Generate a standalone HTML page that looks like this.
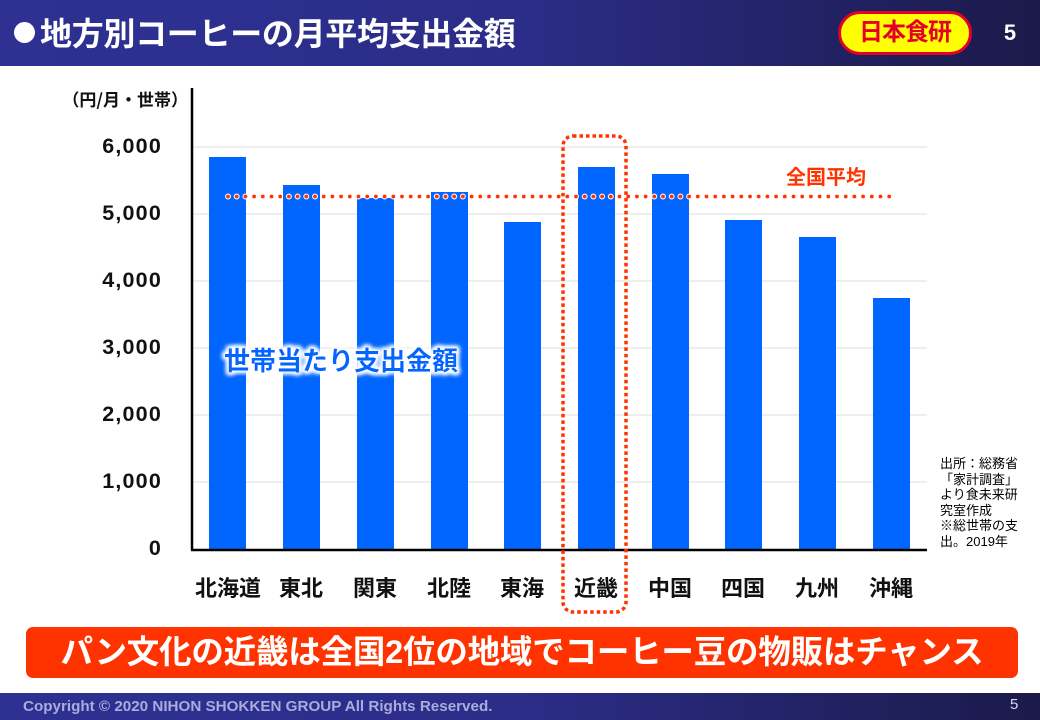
<!DOCTYPE html>
<html><head><meta charset="utf-8">
<style>
*{margin:0;padding:0;box-sizing:border-box}
body{width:1040px;height:720px;background:#fff;position:relative;overflow:hidden;font-family:"Liberation Sans","Noto Sans CJK JP",sans-serif}
.hdr{position:absolute;left:0;top:0;width:1040px;height:66px;background:linear-gradient(90deg,#2e3192 0%,#2b2d88 50%,#1b1a4a 100%)}
.dot{position:absolute;left:14px;top:22px;width:21px;height:21px;border-radius:50%;background:#fff}
.title{position:absolute;left:40px;top:12px;color:#fff;font-weight:bold;font-size:32px;line-height:40px;white-space:nowrap;letter-spacing:-0.3px;font-family:"Noto Sans CJK JP",sans-serif}
.logo{position:absolute;left:838px;top:11px;width:134px;height:44px;border:3px solid #e5002b;border-radius:22px;background:#ffff00;color:#e5002b;font-weight:bold;font-size:24px;line-height:38px;text-align:center;letter-spacing:-1px}
.pg{position:absolute;left:1000px;top:16px;color:#fff;font-weight:bold;font-size:22px;line-height:34px;width:20px;text-align:center}
.banner{position:absolute;left:26px;top:627px;width:992px;height:51px;background:#ff3300;border-radius:7px;color:#fff;font-weight:bold;font-size:32.5px;line-height:51px;text-align:center;white-space:nowrap;letter-spacing:-0.2px}
.ftr{position:absolute;left:0;top:693px;width:1040px;height:27px;background:linear-gradient(90deg,#2e3192 0%,#2b2d88 50%,#1b1a4a 100%)}
.copy{position:absolute;left:23px;top:5px;color:#a9acdc;font-weight:bold;font-size:15.2px;line-height:18px;white-space:nowrap}
.fpg{position:absolute;left:1010px;top:3px;color:#d8d8f0;font-size:15px;line-height:18px}
.note{position:absolute;left:940px;top:456px;font-size:13px;line-height:15.6px;color:#000;font-family:"Liberation Sans","Noto Sans CJK JP",sans-serif}
</style></head><body>
<div class="hdr">
  <div class="dot"></div>
  <div class="title">地方別コーヒーの月平均支出金額</div>
  <div class="logo">日本食研</div>
  <div class="pg">5</div>
</div>

<svg width="1040" height="720" style="position:absolute;left:0;top:0" xmlns="http://www.w3.org/2000/svg">
  <defs>
    <filter id="glow" x="-10%" y="-40%" width="120%" height="180%">
      <feMorphology operator="dilate" radius="2" in="SourceAlpha" result="d"/>
      <feGaussianBlur in="d" stdDeviation="2" result="b"/>
      <feFlood flood-color="#fff"/>
      <feComposite in2="b" operator="in" result="w"/>
      <feMerge><feMergeNode in="w"/><feMergeNode in="w"/><feMergeNode in="SourceGraphic"/></feMerge>
    </filter>
  </defs>
  <g stroke="#e8e8e8" stroke-width="1.5">
    <line x1="192" y1="147" x2="927" y2="147"/>
    <line x1="192" y1="214" x2="927" y2="214"/>
    <line x1="192" y1="281" x2="927" y2="281"/>
    <line x1="192" y1="348" x2="927" y2="348"/>
    <line x1="192" y1="415" x2="927" y2="415"/>
    <line x1="192" y1="482" x2="927" y2="482"/>
  </g>
  <g fill="#0066ff">
    <rect x="209" y="157" width="37" height="392"/>
    <rect x="283" y="185" width="37" height="364"/>
    <rect x="357" y="198" width="37" height="351"/>
    <rect x="431" y="192" width="37" height="357"/>
    <rect x="504" y="222" width="37" height="327"/>
    <rect x="578" y="167" width="37" height="382"/>
    <rect x="652" y="174" width="37" height="375"/>
    <rect x="725" y="220" width="37" height="329"/>
    <rect x="799" y="237" width="37" height="312"/>
    <rect x="873" y="298" width="37" height="251"/>
  </g>
  <line x1="192" y1="88" x2="192" y2="550" stroke="#000" stroke-width="2.5"/>
  <line x1="191" y1="550" x2="927" y2="550" stroke="#000" stroke-width="2.5"/>
  <line x1="228" y1="196.5" x2="890" y2="196.5" stroke="#fff" stroke-width="6" stroke-linecap="round" stroke-dasharray="0 8.7" opacity="0.95"/>
  <line x1="228" y1="196.5" x2="890" y2="196.5" stroke="#ff3300" stroke-width="3.8" stroke-linecap="round" stroke-dasharray="0 8.7"/>
  <rect x="563" y="136" width="63" height="476" rx="10" ry="10" fill="none" stroke="#ff3300" stroke-width="3.5" stroke-dasharray="3.5 3"/>
  <g font-family="Liberation Sans, Noto Sans CJK JP, sans-serif" font-weight="bold" fill="#111">
    <text x="188" y="106" font-size="17" text-anchor="end" font-family="Noto Sans CJK JP, sans-serif">（円/月・世帯）</text>
    <g font-size="21.5" text-anchor="end" letter-spacing="1.2">
      <text x="162" y="153">6,000</text>
      <text x="162" y="220">5,000</text>
      <text x="162" y="287">4,000</text>
      <text x="162" y="354">3,000</text>
      <text x="162" y="421">2,000</text>
      <text x="162" y="488">1,000</text>
      <text x="162" y="555">0</text>
    </g>
    <g font-size="22" text-anchor="middle">
      <text x="228" y="596">北海道</text>
      <text x="301" y="596">東北</text>
      <text x="375" y="596">関東</text>
      <text x="449" y="596">北陸</text>
      <text x="522" y="596">東海</text>
      <text x="596" y="596">近畿</text>
      <text x="670" y="596">中国</text>
      <text x="743" y="596">四国</text>
      <text x="817" y="596">九州</text>
      <text x="891" y="596">沖縄</text>
    </g>
    <text x="786" y="184" font-size="20" fill="#ff3300">全国平均</text>
    <text x="224" y="370" font-size="26" fill="#0066ff" filter="url(#glow)">世帯当たり支出金額</text>
  </g>
</svg>

<div class="note">出所：総務省<br>「家計調査」<br>より食未来研<br>究室作成<br>※総世帯の支<br>出。2019年</div>

<div class="banner">パン文化の近畿は全国2位の地域でコーヒー豆の物販はチャンス</div>

<div class="ftr">
  <div class="copy">Copyright © 2020 NIHON SHOKKEN GROUP All Rights Reserved.</div>
  <div class="fpg">5</div>
</div>
</body></html>
